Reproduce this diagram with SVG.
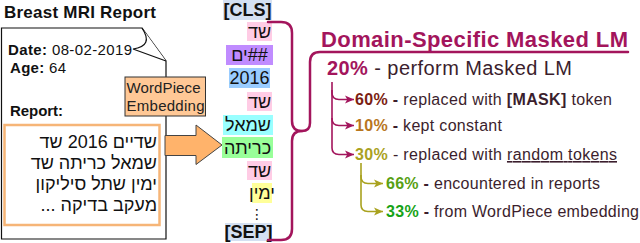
<svg xmlns="http://www.w3.org/2000/svg" width="640" height="243" viewBox="0 0 640 243">
<defs>
<style>
text{font-family:"Liberation Sans","DejaVu Sans",Arial,sans-serif;}
.b{font-weight:bold;}
.doc{fill:#fff;stroke:#111;stroke-width:1.2;}
.tok{font-size:18px;fill:#111;text-anchor:middle;}
.dk{fill:#3b1e2d;}
.cr{fill:#a3155c;}
.crs{fill:none;stroke:#a3155c;stroke-width:2.5;stroke-linecap:round;stroke-linejoin:round;}
.tr{fill:none;stroke:#a3155c;stroke-width:1.6;}
.ol{fill:none;stroke:#a9a21f;stroke-width:1.6;}
.row{font-size:16px;}
</style>
<marker id="ahc" viewBox="0 0 10 10" refX="10" refY="5" markerWidth="9" markerHeight="9" markerUnits="userSpaceOnUse" orient="auto"><path d="M0,0.5 L10,5 L0,9.5 L2.5,5 Z" fill="#a3155c"/></marker>
<marker id="aho" viewBox="0 0 10 10" refX="10" refY="5" markerWidth="9" markerHeight="9" markerUnits="userSpaceOnUse" orient="auto"><path d="M0,0.5 L10,5 L0,9.5 L2.5,5 Z" fill="#a9a21f"/></marker>
</defs>
<rect width="640" height="243" fill="#fff"/>

<g id="report-doc">
<text class="b" x="4" y="18" font-size="17" fill="#111" textLength="152">Breast MRI Report</text>
<path class="doc" d="M1.5,28 H142 L166,61 V239 H1.5 Z"/>
<path class="doc" d="M142,28 Q154,46 133,49 L166,61"/>
<text x="8" y="55" font-size="15" fill="#111" textLength="124"><tspan class="b">Date:</tspan> 08-02-2019</text>
<text x="10" y="73" font-size="15" fill="#111" textLength="56"><tspan class="b">Age:</tspan> 64</text>
<text class="b" x="10" y="116" font-size="15" fill="#111" textLength="53">Report:</text>
</g>

<g id="report-text">
<rect x="4.5" y="125" width="155" height="100" fill="#fff" stroke="#f6b577" stroke-width="2.5"/>
<g font-size="18" fill="#111" text-anchor="end">
<text x="157" y="148">שדיים 2016 שד</text>
<text x="157" y="169">שמאל כריתה שד</text>
<text x="157" y="190">ימין שתל סיליקון</text>
<text x="157" y="211">מעקב בדיקה ...&#x200F;</text>
</g>
</g>

<g id="wordpiece">
<rect x="125" y="77" width="80.5" height="39" fill="#ffc896" stroke="#333" stroke-width="1"/>
<text x="126.5" y="92.5" font-size="15" fill="#222" textLength="74">WordPiece</text>
<text x="126.5" y="111" font-size="15" fill="#222" textLength="78">Embedding</text>
</g>

<g id="big-arrow">
<path d="M165,135.5 H196 V125 L222,145 L196,164.5 V155.5 H165 Z" fill="#ffb36b" stroke="#444" stroke-width="1"/>
</g>

<g id="tokens">
<g id="tok-cls"><rect x="223" y="0" width="49" height="20" fill="#d4e0f2"/><text class="tok b" x="247.5" y="16" font-size="16">[CLS]</text></g>
<g id="tok-1"><rect x="247" y="22" width="25" height="19" fill="#ffcce5"/><text class="tok" x="259.5" y="37.5">שד</text></g>
<g id="tok-2"><rect x="226" y="45" width="47" height="20" fill="#c08cff"/><text class="tok" x="249.5" y="61">ים##</text></g>
<g id="tok-3"><rect x="229" y="68" width="41" height="20" fill="#99ccff"/><text class="tok" x="249.5" y="84">2016</text></g>
<g id="tok-4"><rect x="247" y="92" width="25" height="19" fill="#ffcce5"/><text class="tok" x="259.5" y="107.5">שד</text></g>
<g id="tok-5"><rect x="223" y="115" width="50" height="20" fill="#99ffff"/><text class="tok" x="248" y="131">שמאל</text></g>
<g id="tok-6"><rect x="222" y="137" width="51" height="21" fill="#99ff99"/><text class="tok" x="247.5" y="153.5">כריתה</text></g>
<g id="tok-7"><rect x="247" y="161" width="25" height="19" fill="#ffcce5"/><text class="tok" x="259.5" y="176.5">שד</text></g>
<g id="tok-8"><rect x="252" y="183" width="20" height="20" fill="#ffff99"/><text class="tok" x="262" y="199">ימין</text></g>
<g id="tok-dots"><text x="257" y="219" font-size="14" fill="#111" text-anchor="middle" font-family="DejaVu Sans">⋮</text></g>
<g id="tok-sep"><rect x="225" y="223" width="47" height="18" fill="#d4e0f2"/><text class="tok b" x="248.5" y="238" font-size="16">[SEP]</text></g>
</g>

<g id="connectors">
<path class="crs" d="M268,22 H281 Q292,22 292,33 V121 Q292,131 302,131 Q292,131 292,141 V229 Q292,240 281,240 H268"/>
<path class="crs" d="M302,131 Q310,131 310,123 V62 Q310,52 320,52 H628" stroke-width="2.2"/>
<path class="tr" d="M332,82 V93 Q332,99.5 339,99.5 H354" marker-end="url(#ahc)"/>
<path class="tr" d="M332,90 V119 Q332,125.5 339,125.5 H354" marker-end="url(#ahc)"/>
<path class="tr" d="M332,118 V148 Q332,154.5 339,154.5 H354" marker-end="url(#ahc)"/>
<path class="ol" d="M361,163 V177 Q361,183.5 368,183.5 H383" marker-end="url(#aho)"/>
<path class="ol" d="M361,175 V205 Q361,211.5 368,211.5 H383" marker-end="url(#aho)"/>
</g>

<g id="mlm-tree">
<text class="b cr" x="321" y="47" font-size="22" textLength="307">Domain-Specific Masked LM</text>
<text x="327" y="75" font-size="20" textLength="245"><tspan class="b cr">20%</tspan><tspan class="dk"> - perform Masked LM</tspan></text>
<text class="row" x="355" y="105" textLength="257"><tspan class="b" fill="#7b1e12">60%</tspan><tspan class="dk"> <tspan class="b">-</tspan> replaced with <tspan class="b">[MASK]</tspan> token</tspan></text>
<text class="row" x="355" y="131" textLength="147"><tspan class="b" fill="#b8761e">10%</tspan><tspan class="dk"> <tspan class="b">-</tspan> kept constant</tspan></text>
<text class="row" x="355" y="160" textLength="262"><tspan class="b" fill="#aaa21f">30%</tspan><tspan class="dk"> - replaced with <tspan text-decoration="underline">random tokens</tspan></tspan></text>
<text class="row" x="386" y="189" textLength="214"><tspan class="b" fill="#58a014">66%</tspan><tspan class="dk"> <tspan class="b">-</tspan> encountered in reports</tspan></text>
<text class="row" x="386" y="217" textLength="253"><tspan class="b" fill="#17a317">33%</tspan><tspan class="dk"> <tspan class="b">-</tspan> from WordPiece embedding</tspan></text>
</g>
</svg>
